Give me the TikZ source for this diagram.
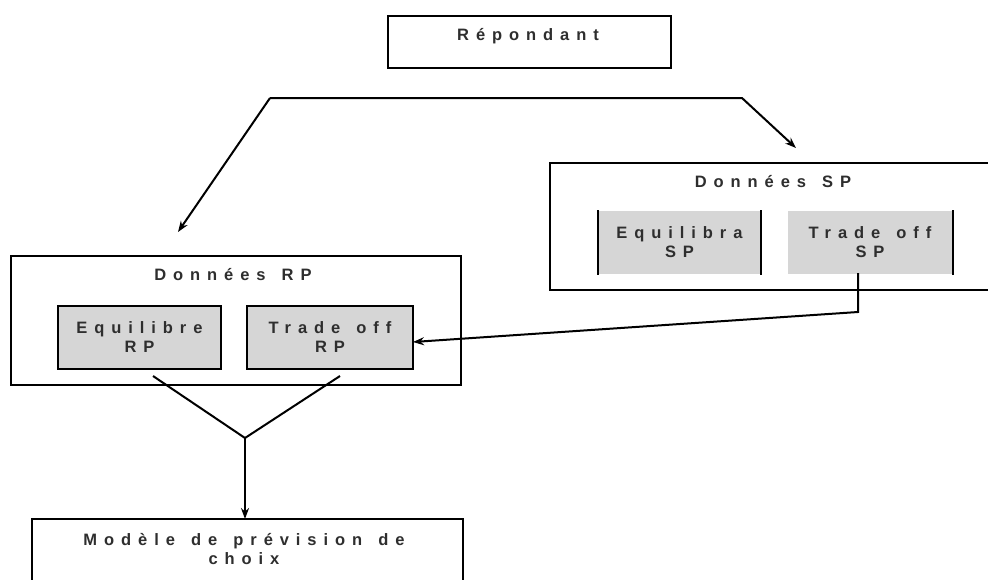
\documentclass[tikz,border=0pt]{standalone}
\usepackage{fontspec}
\setmainfont{Liberation Sans}[LetterSpace=42,WordSpace=1.4]
\usetikzlibrary{arrows.meta,calc}
\begin{document}
\begin{tikzpicture}[x=1pt,y=-1pt,
  line width=2pt,
  lbl/.style={font=\fontsize{16.5}{19}\selectfont\bfseries, text=black!82, align=center, inner sep=0pt},
  outer/.style={draw, rectangle, inner sep=0pt, anchor=north west},
  inner box/.style={fill=black!16, rectangle, inner sep=0pt, anchor=north west},
  arr/.style={-{Stealth[length=11pt,width=8pt]}}
]
\useasboundingbox[fill=white] (0,0) rectangle (988,579);

% Repondant
\node[outer, minimum width=283pt, minimum height=52pt] (resp) at (387,15) {};
\node[lbl] (respt) at (528,36) {Répondant};

% Donnees SP (open on the right)
\node[rectangle, inner sep=0pt, anchor=north west, minimum width=440pt, minimum height=125pt] (dsp) at (550,163) {};
\draw (dsp.north east) -- (dsp.north west) -- (dsp.south west) -- (dsp.south east);
\node[lbl] (dspt) at (773,182) {Données SP};
\node[inner box, minimum width=161pt, minimum height=63pt] (eqsp) at (598,210) {};
\draw (eqsp.north west) -- (eqsp.south west) (eqsp.north east) -- (eqsp.south east);
\node[lbl] at (eqsp.center) {Equilibra\\SP};
\node[inner box, minimum width=164pt, minimum height=63pt] (tosp) at (787,210) {};
\draw (tosp.north east) -- (tosp.south east);
\node[lbl] at (tosp.center) {Trade off\\SP};

% Donnees RP
\node[outer, minimum width=450pt, minimum height=129pt] (drp) at (10,255) {};
\node[lbl] (drpt) at (233,275) {Données RP};
\node[inner box, draw, minimum width=163pt, minimum height=63pt] (eqrp) at (57,305) {};
\node[lbl] at (eqrp.center) {Equilibre\\RP};
\node[inner box, draw, minimum width=166pt, minimum height=63pt] (torp) at (246,305) {};
\node[lbl] at (torp.center) {Trade off\\RP};

% Modele (cut by the lower edge)
\node[rectangle, inner sep=0pt, anchor=north west, minimum width=429pt, minimum height=70pt] (mod) at (32,519) {};
\draw (mod.south west) -- (mod.north west) -- (mod.north east) -- (mod.south east);
\node[lbl] (modt) at (244,549) {Modèle de prévision de\\choix};

% connectors
\coordinate (tl) at (270,98);
\coordinate (tr) at (742,98);
\coordinate (tipsp) at (796,148);
\coordinate (tiprp) at (178,232);
\draw[arr] (tl) -- (tr) -- (tipsp);
\draw[arr] (tl) -- (tiprp);

\coordinate (spdown) at (858,273);
\coordinate (spbend) at (858,312);
\coordinate (rpin) at (413,342);
\draw[arr] (spdown) -- (spbend) -- (rpin);

\coordinate (eqout) at (153,376);
\coordinate (toout) at (340,376);
\coordinate (merge) at (245,438);
\draw (eqout) -- (merge) -- (toout);
\draw[arr] (merge) -- (mod.north -| merge);
\end{tikzpicture}
\end{document}
